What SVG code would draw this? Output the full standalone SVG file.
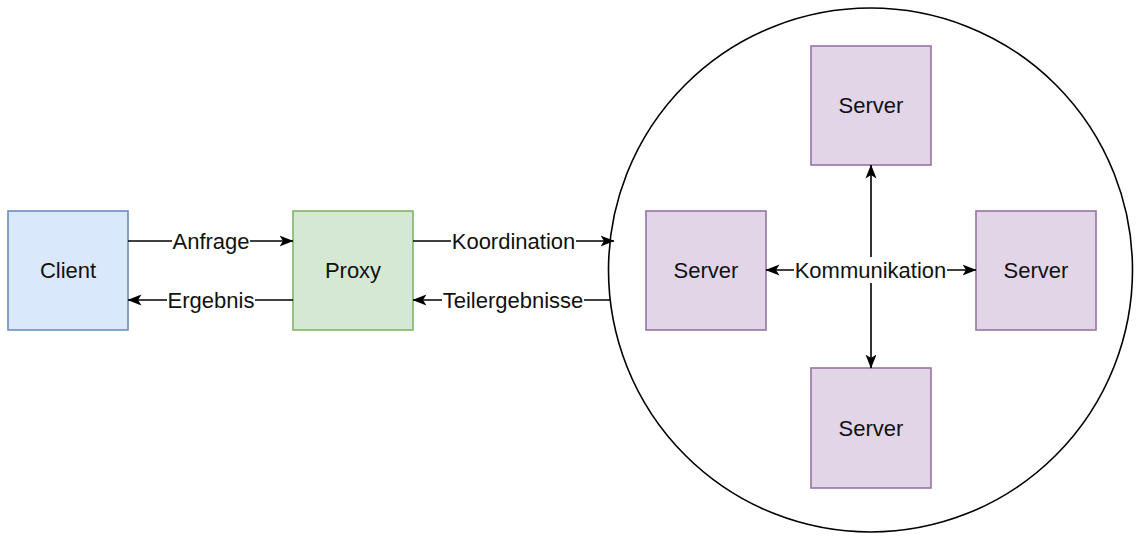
<svg xmlns="http://www.w3.org/2000/svg" width="1142" height="542" viewBox="0 0 1142 542">
<style>
text{font-family:"Liberation Sans",Arial,sans-serif;font-size:22px;fill:#111;text-anchor:middle;dominant-baseline:central}
.edge{stroke:#000;stroke-width:1.6;fill:none}
.lbg{fill:#fff}
.client{fill:#dae8fc;stroke:#6c8ebf;stroke-width:1.6}
.proxy{fill:#d5e8d4;stroke:#82b366;stroke-width:1.6}
.server{fill:#e1d5e7;stroke:#9673a6;stroke-width:1.6}
</style>
<defs>
<marker id="ah" viewBox="0 0 14 12" refX="13.5" refY="6" markerWidth="14" markerHeight="12" markerUnits="userSpaceOnUse" orient="auto-start-reverse">
<path d="M0,0.5 L14,6 L0,11.5 L3.5,6 Z" fill="#000"/>
</marker>
</defs>
<g id="cluster">
<circle cx="870.5" cy="270" r="262" fill="#fff" stroke="#000" stroke-width="1.6"/>
</g>
<g id="client"><rect class="client" x="8" y="211" width="120" height="119"/><text x="68" y="270.5">Client</text></g>
<g id="proxy"><rect class="proxy" x="293" y="211" width="120" height="119"/><text x="353" y="270.5">Proxy</text></g>
<g id="server-top"><rect class="server" x="811" y="46" width="120" height="119"/><text x="871" y="105.5">Server</text></g>
<g id="server-left"><rect class="server" x="646" y="211" width="120" height="119"/><text x="706" y="270.5">Server</text></g>
<g id="server-right"><rect class="server" x="976" y="211" width="120" height="119"/><text x="1036" y="270.5">Server</text></g>
<g id="server-bottom"><rect class="server" x="811" y="368" width="120" height="120"/><text x="871" y="428">Server</text></g>
<g id="connectors">
<line class="edge" x1="128" y1="241" x2="293" y2="241" marker-end="url(#ah)"/>
<rect class="lbg" x="172" y="229" width="78" height="24"/><text x="211" y="241">Anfrage</text>
<line class="edge" x1="293" y1="300" x2="128" y2="300" marker-end="url(#ah)"/>
<rect class="lbg" x="167" y="288" width="88" height="24"/><text x="211" y="300">Ergebnis</text>
<line class="edge" x1="413" y1="241" x2="614" y2="241" marker-end="url(#ah)"/>
<rect class="lbg" x="451" y="229" width="125" height="24"/><text x="513.5" y="241">Koordination</text>
<line class="edge" x1="610" y1="300" x2="413" y2="300" marker-end="url(#ah)"/>
<rect class="lbg" x="442" y="288" width="142" height="24"/><text x="513" y="300">Teilergebnisse</text>
<line class="edge" x1="871" y1="165" x2="871" y2="368" marker-start="url(#ah)" marker-end="url(#ah)"/>
<line class="edge" x1="766" y1="270" x2="976" y2="270" marker-start="url(#ah)" marker-end="url(#ah)"/>
<rect class="lbg" x="794" y="257" width="153" height="26"/><text x="870.5" y="270">Kommunikation</text>
</g>
</svg>
